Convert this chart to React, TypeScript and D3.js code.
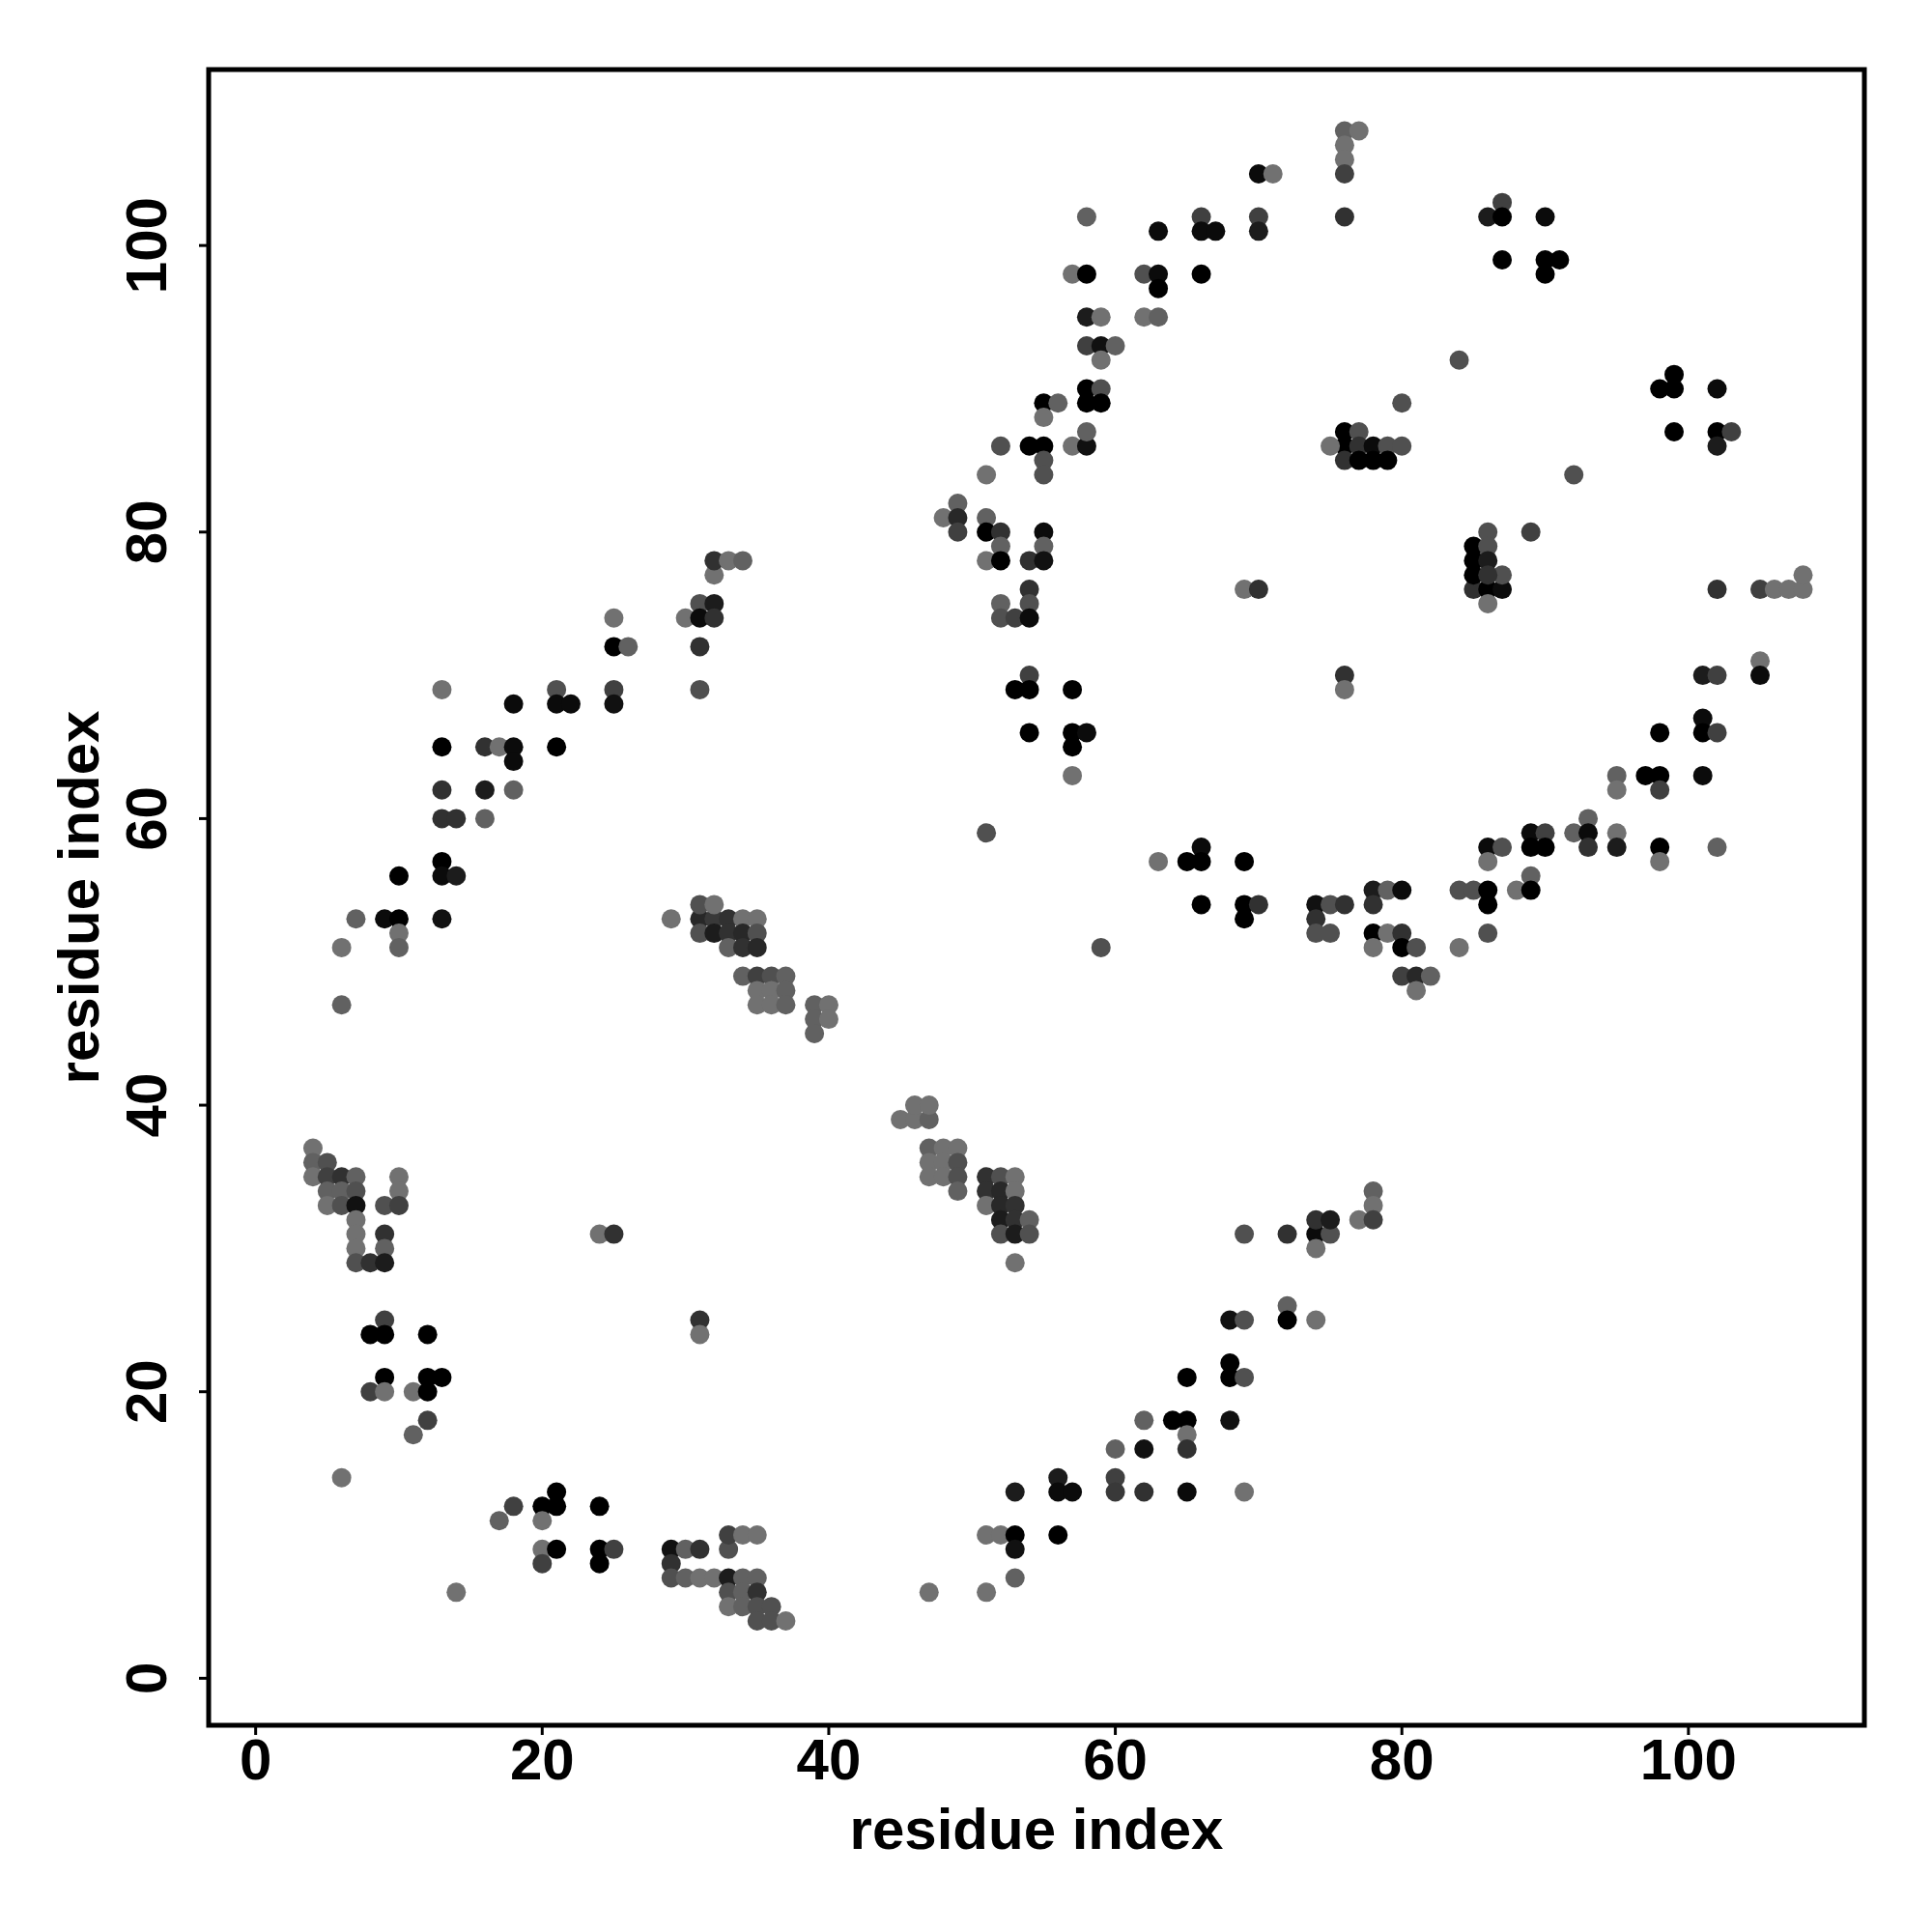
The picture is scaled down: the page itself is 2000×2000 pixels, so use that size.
import React from "react";
import * as d3 from "d3";

// contact map: residue i (x), residue j (y), score (0 = light gray, 1 = black)
const residueI: number[] = [
  4,4,5,4,5,6,7,10,5,6,7,10,5,6,7,9,10,7,7,9,7,9,7,8,9,24,25,31,31,9,8,9,12,9,12,13,8,9,11,12,12,11,6,14,21,18,20,21,24,17,20,20,21,24,25,29,30,31,33,33,34,35,20,24,29,29,30,31,32,33,34,35,33,34,35,33,34,35,36,35,36,37,
  45,46,47,46,47,47,48,49,47,48,49,47,48,49,51,52,53,49,51,52,53,51,52,53,52,53,54,52,53,54,53,69,72,74,75,74,75,77,74,78,78,78,72,68,69,72,74,68,65,68,69,62,64,65,68,65,60,62,65,56,60,53,56,57,60,62,65,69,51,52,53,56,53,53,47,51,
  32,31,32,25,30,31,32,25,26,31,13,21,25,31,18,21,22,25,13,16,17,18,21,18,13,16,18,13,14,16,13,10,13,14,7,9,10,13,29,31,32,33,34,35,31,32,10,31,32,33,34,35,6,10,33,34,35,34,35,36,37,35,36,37,6,35,36,37,39,39,39,40,40,
  54,69,70,52,54,52,53,54,54,76,53,54,57,76,54,57,58,57,57,51,66,63,65,66,69,66,69,70,74,75,76,69,74,74,75,59,
  85,86,87,102,105,106,107,108,86,105,101,102,105,101,98,101,102,95,97,98,101,95,98,93,89,90,92,93,95,86,87,89,90,93,95,98,102,86,98,89,78,79,80,84,85,86,88,89,78,86,78,79,80,86,78,80,81,84,80,81,82,81,
  32,33,34,
  76,76,76,76,76,77,70,71,58,63,66,66,67,70,70,57,58,62,63,63,66,58,59,62,63,58,59,60,59,58,59,58,59,55,56,55,52,54,55,57,58,58,55,55,51,49,48,49,49,51,51,52,52,51,52,55,55,54,55,76,76,75,76,
  87,86,87,90,87,90,91,90,84,99,98,99,102,99,102,103,102,80,92,77,77,78,79,80,77,78,79,86,89,85,86,85,86,87,85,86,108,
];

const residueJ: number[] = [
  37,36,36,35,35,35,35,35,34,34,34,34,33,33,33,33,33,32,31,31,30,30,29,29,29,31,31,25,24,25,24,24,24,21,21,21,20,20,20,20,18,17,14,6,13,12,12,12,12,11,11,9,9,9,9,9,9,9,9,10,10,10,8,8,8,7,7,7,7,7,7,7,6,6,6,5,5,5,5,4,4,4,
  39,39,39,40,40,37,37,37,36,36,36,35,35,35,35,35,35,34,34,34,34,33,33,33,32,32,32,31,31,31,29,31,31,31,31,32,32,32,30,34,33,32,26,25,25,25,25,22,21,21,21,18,18,18,18,17,16,16,16,14,14,13,13,13,13,13,13,13,10,10,10,10,9,7,6,6,
  77,75,75,74,74,74,74,72,72,72,69,69,69,69,68,68,68,68,65,65,65,65,65,64,62,62,62,60,60,60,57,56,56,56,53,53,53,53,53,53,53,53,53,53,54,54,52,52,52,52,52,52,51,51,51,51,51,49,49,49,49,48,48,48,47,47,47,47,47,46,45,47,46,
  76,76,76,75,75,74,74,74,70,70,69,69,69,69,66,66,66,65,63,59,58,57,57,57,57,54,54,54,54,54,54,53,53,52,52,51,
  76,76,76,76,76,76,76,76,75,71,70,70,70,67,66,66,66,63,63,63,63,62,62,60,59,59,59,59,59,58,58,58,58,58,58,58,58,57,57,56,55,55,55,55,55,55,55,55,54,54,52,52,52,52,51,51,51,51,49,49,49,48,
  78,78,78,
  108,107,106,105,102,108,105,105,102,101,102,101,101,102,101,98,98,98,98,97,98,95,95,95,95,93,93,93,92,90,90,89,89,89,89,88,86,86,86,86,86,87,85,84,84,82,81,81,80,81,80,80,79,78,78,80,79,78,78,87,86,86,85,
  103,102,102,102,99,99,99,98,92,91,90,90,90,87,87,87,86,89,84,87,86,86,86,86,85,85,85,80,80,79,79,78,78,77,77,77,77,
];

const contactScore: number[] = [
  0,.14,.29,0,.43,.57,.14,0,.14,.14,.29,0,0,.29,.85,.29,.43,0,0,.57,0,.14,.29,.57,.75,0,.57,.57,0,.43,1,1,1,1,1,1,.43,0,0,1,.43,.14,0,0,1,.43,1,1,1,.14,0,0,1,1,.43,.85,.14,.57,.29,.43,0,0,.43,1,.57,.29,.14,0,0,.75,.14,.14,.29,.14,.57,0,.14,.29,.29,.29,.29,0,
  0,0,.14,0,0,.14,0,0,0,0,.29,0,0,.29,.57,.29,0,.14,.57,.65,0,0,.65,.57,.75,.57,.14,.29,.75,.29,0,.29,.57,.9,.29,.57,.75,0,0,.14,0,.43,.14,.85,.29,1,0,1,1,1,.29,.14,1,1,.85,0,.14,.85,.57,.75,.43,.75,.9,.9,.5,.57,.9,0,0,0,1,1,.85,.14,0,0,
  0,.29,.75,0,0,.9,.57,1,.14,.57,0,.29,.43,.29,.9,.9,.9,.85,1,.57,0,.9,1,.9,.57,.75,.14,.57,.57,.14,1,1,.9,.75,.14,.9,1,.85,0,.65,.5,.57,0,0,.29,0,0,.29,.75,.57,.65,.29,0,.14,.14,.57,.65,.14,.43,.29,.14,0,0,.14,.14,0,0,.14,.14,.14,.14,0,0,
  .57,0,.57,.14,.29,.29,.43,.9,.43,.57,1,1,1,0,1,1,.9,1,0,.29,.9,0,1,1,1,1,1,.57,.85,.29,.57,1,.57,.29,.29,.29,
  .57,1,.9,.57,.43,0,0,0,0,0,.75,.43,.9,.9,1,1,.43,.14,1,1,.9,0,.43,.14,.9,.43,.14,.9,0,.9,.29,1,1,.57,.75,1,.14,0,0,.14,.75,.14,.9,.29,.29,1,0,1,.57,1,1,0,.57,.29,0,1,.29,0,.43,.65,.14,0,
  .57,0,.14,
  .14,0,0,.43,.57,0,.9,0,.14,.9,.43,.9,.9,.43,.75,0,1,.29,.9,1,1,.75,0,0,.14,.43,.85,.14,0,1,.29,1,1,1,.14,0,.29,1,1,0,.85,.14,.29,.29,0,.14,0,.65,.43,.14,1,.57,.14,0,1,.9,.14,.57,.85,1,1,0,.57,
  .43,.75,1,.9,1,1,1,1,.29,1,1,1,.9,1,1,.43,.75,.29,.29,.29,.57,.9,.29,.29,1,1,1,.29,.43,1,.29,1,.75,.29,1,.57,0,
];

const xTicks = [0, 20, 40, 60, 80, 100];
const yTicks = [0, 20, 40, 60, 80, 100];
const axisTitleX = "residue index";
const axisTitleY = "residue index";

const W = 2000;
const H = 2000;
const left = 216, right = 1930, top = 72, bottom = 1786;
const FONT = "'Liberation Sans', Arial, Helvetica, sans-serif";

export default function App() {
  const x = d3.scaleLinear().domain([-3.28, 112.28]).range([left, right]);
  const y = d3.scaleLinear().domain([-3.28, 112.28]).range([bottom, top]);
  const shade = d3.scaleLinear<string>().domain([0, 1]).range(["#717171", "#000000"]).interpolate(d3.interpolateRgb);
  const n = Math.min(residueI.length, residueJ.length, contactScore.length);
  const pts = d3.range(n).map((k) => ({ i: residueI[k], j: residueJ[k], s: contactScore[k] }));

  return (
    <svg width={W} height={H} style={{ position: "absolute", left: 0, top: 0, background: "#fff" }}>
      <rect x={0} y={0} width={W} height={H} fill="#fff" />
      <g>
        {pts.map((p, k) => (
          <circle key={k} cx={x(p.i)} cy={y(p.j)} r={10} fill={shade(p.s)} />
        ))}
      </g>
      <rect x={left} y={top} width={right - left} height={bottom - top} fill="none" stroke="#000" strokeWidth={5} />
      {xTicks.map((t) => (
        <g key={"x" + t}>
          <line x1={x(t)} x2={x(t)} y1={bottom} y2={bottom + 10} stroke="#000" strokeWidth={3} />
          <text x={x(t)} y={1842} textAnchor="middle" fontFamily={FONT} fontWeight="bold" fontSize={60}>{t}</text>
        </g>
      ))}
      {yTicks.map((t) => (
        <g key={"y" + t}>
          <line x1={left - 10} x2={left} y1={y(t)} y2={y(t)} stroke="#000" strokeWidth={3} />
          <text transform={`translate(172,${y(t)}) rotate(-90)`} textAnchor="middle" fontFamily={FONT} fontWeight="bold" fontSize={60}>{t}</text>
        </g>
      ))}
      <text x={(left + right) / 2} y={1914} textAnchor="middle" fontFamily={FONT} fontWeight="bold" fontSize={60}>{axisTitleX}</text>
      <text transform={`translate(102,${(top + bottom) / 2}) rotate(-90)`} textAnchor="middle" fontFamily={FONT} fontWeight="bold" fontSize={60}>{axisTitleY}</text>
    </svg>
  );
}
